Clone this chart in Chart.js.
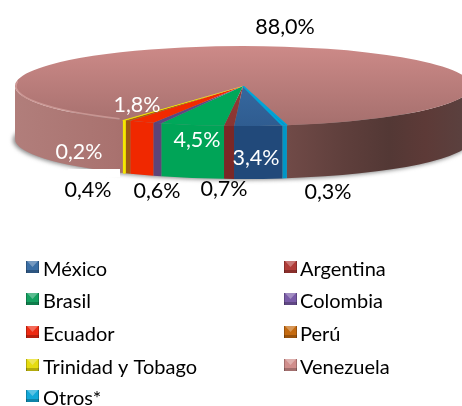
<!DOCTYPE html>
<html>
<head>
<meta charset="utf-8">
<style>
  html, body { margin: 0; padding: 0; background: #fff; overflow: hidden; }
  canvas { display: block; }
</style>
<script src="https://cdn.jsdelivr.net/npm/chart.js@4"></script>
</head>
<body>
<canvas id="pie-chart" width="462" height="406"></canvas>
<script>
// Data
const countries = ['México', 'Argentina', 'Brasil', 'Colombia', 'Ecuador', 'Perú', 'Trinidad y Tobago', 'Venezuela', 'Otros*'];
const shares = [3.4, 0.7, 4.5, 0.6, 1.8, 0.4, 0.2, 88.0, 0.3];

// Colours per slice: top face (upper, lower), side wall, legend swatch
const topLight = ['#3d74ad', '#96403d', '#00a85a', '#68508c', '#f22a00', '#b8690f', '#f7ea00', '#cd8a88', '#00a4d8'];
const topDark = ['#2f5c90', '#8a3532', '#00a85a', '#5c4580', '#f22a00', '#a85e0c', '#f0e000', '#a56f6d', '#0096c8'];
const wallColors = ['#21497a', '#7b2826', '#00a457', '#5d4478', '#f02800', '#9c5a12', '#f5e800', null, '#0096c6'];
const swatchColors = ['#3a6ea5', '#b03c38', '#14a060', '#7a5ca8', '#ee2a12', '#c46a10', '#e6dc10', '#d08e8c', '#12a8d8'];
// thin slices get an outline so they stay visible up to the apex
const outlineWidths = [0, 0, 0, 0, 0, 0, 2, 0, 2];

// Pie geometry on the page
const pie = { cx: 243, cy: 86, rx: 228, ry: 40, depth: 53 };
const startAngle = 170;

// Where the value labels sit: x centre, baseline, colour
const labelSpots = [
    [256, 165, '#fff'], [224, 196, '#000'], [197, 147, '#fff'], [157, 198, '#000'], [137, 112, '#fff'],
    [88, 197, '#000'], [79, 159, '#fff'], [285, 34, '#000'], [328, 199, '#000']
];

// Legend rows: swatch x, text x, baseline
const legendSpots = [
    [26, 43, 276], [284, 300, 276], [26, 43, 308], [284, 300, 308], [26, 43, 341],
    [284, 300, 341], [26, 43, 374], [284, 300, 374], [26, 43, 405]
];

const labelFont = '21.5px Lato, Carlito, sans-serif';
const legendFont = '20px Lato, Carlito, sans-serif';

function venezuelaWall(ctx) {
    const g = ctx.createLinearGradient(pie.cx - pie.rx, 0, pie.cx + pie.rx, 0);
    g.addColorStop(0, '#b17e7b');
    g.addColorStop(0.22, '#a9726f');
    g.addColorStop(0.3, '#a06a67');
    g.addColorStop(0.6, '#704a47');
    g.addColorStop(0.72, '#5f3f3c');
    g.addColorStop(0.82, '#533835');
    g.addColorStop(0.9, '#5d3a37');
    g.addColorStop(1, '#5a4240');
    return g;
}

function drawWalls(ctx, arcs) {
    const { cx, cy, rx, ry, depth } = pie;
    const full = Math.PI * 2;
    arcs.forEach((arc, i) => {
        [0, -full].forEach(shift => {
            const a1 = Math.max(arc.startAngle + shift, 0);
            const a2 = Math.min(arc.endAngle + shift, Math.PI);
            if (a2 <= a1) return;
            ctx.beginPath();
            ctx.ellipse(cx, cy, rx, ry, 0, a1, a2);
            ctx.ellipse(cx, cy + depth, rx, ry, 0, a2, a1, true);
            ctx.closePath();
            ctx.fillStyle = wallColors[i] || venezuelaWall(ctx);
            ctx.fill();
            // the yellow sliver reads a bit wider in the original
            if (countries[i].startsWith('Trinidad')) {
                ctx.strokeStyle = wallColors[i];
                ctx.lineWidth = 1;
                ctx.stroke();
            }
        });
    });
}

const pie3d = {
    id: 'pie3d',
    beforeDatasetsDraw(chart) {
        const ctx = chart.ctx;
        const arcs = chart.getDatasetMeta(0).data;
        const { cx, cy, rx, ry, depth } = pie;

        // soft shadow under the disc
        ctx.save();
        ctx.filter = 'blur(2px)';
        ctx.fillStyle = '#8a8a8a';
        ctx.beginPath();
        ctx.ellipse(cx - 1, cy + depth + 1, rx + 1, ry, 0, 0, Math.PI * 2);
        ctx.fill();
        ctx.restore();

        drawWalls(ctx, arcs);

        // squash the library's round pie into the top face
        const arc = arcs[0];
        ctx.save();
        ctx.translate(cx, cy);
        ctx.scale(rx / arc.outerRadius, ry / arc.outerRadius);
        ctx.translate(-arc.x, -arc.y);
    },
    afterDatasetsDraw(chart) {
        const ctx = chart.ctx;
        ctx.restore();
        const { cx, cy, rx, ry } = pie;
        const ven = chart.getDatasetMeta(0).data[7];

        // light rim on the front left of the top face
        ctx.save();
        ctx.strokeStyle = 'rgba(236, 190, 186, 0.45)';
        ctx.lineWidth = 1.5;
        ctx.filter = 'blur(0.5px)';
        ctx.beginPath();
        ctx.ellipse(cx, cy, rx - 1, ry - 1, 0, ven.startAngle + 0.02, Math.PI + 0.12);
        ctx.stroke();
        ctx.restore();

        // white box behind the 0,4% label cuts the disc bottom
        ctx.fillStyle = '#fff';
        ctx.fillRect(68, 169, 52, 8);

        // value labels
        ctx.font = labelFont;
        ctx.textAlign = 'center';
        ctx.textBaseline = 'alphabetic';
        shares.forEach((v, i) => {
            const [x, y, color] = labelSpots[i];
            ctx.fillStyle = color;
            ctx.fillText(v.toFixed(1).replace('.', ',') + '%', x, y);
        });

        // legend
        ctx.textAlign = 'left';
        ctx.font = legendFont;
        countries.forEach((name, i) => {
            const [sx, tx, y] = legendSpots[i];
            drawSwatch(ctx, sx, y - 15, swatchColors[i]);
            ctx.fillStyle = '#000';
            ctx.fillText(name, tx, y);
        });
    }
};

function drawSwatch(ctx, x, y, color) {
    const w = 13, h = 12;
    ctx.fillStyle = color;
    ctx.fillRect(x, y, w, h);
    // dark lower half and light top wedge
    ctx.fillStyle = 'rgba(0, 0, 0, 0.22)';
    ctx.fillRect(x, y + h - 3, w, 3);
    ctx.fillRect(x, y, 1, h);
    ctx.fillRect(x + w - 1, y, 1, h);
    ctx.fillStyle = 'rgba(255, 255, 255, 0.3)';
    ctx.beginPath();
    ctx.moveTo(x + 1, y);
    ctx.lineTo(x + w - 1, y);
    ctx.lineTo(x + w / 2, y + h / 2);
    ctx.closePath();
    ctx.fill();
}

// Create Pie Chart
const pieCtx = document.getElementById('pie-chart').getContext('2d');
new Chart(pieCtx, {
    type: 'pie',
    data: {
        labels: countries,
        datasets: [{
            data: shares,
            clip: false,
            borderWidth: outlineWidths,
            borderColor: topLight,
            backgroundColor(c) {
                const area = c.chart.chartArea;
                if (!area) return topLight[c.dataIndex];
                const g = c.chart.ctx.createLinearGradient(0, area.top, 0, area.bottom);
                g.addColorStop(0, topLight[c.dataIndex]);
                g.addColorStop(1, topDark[c.dataIndex]);
                return g;
            }
        }]
    },
    options: {
        responsive: false,
        animation: false,
        rotation: startAngle,
        plugins: {
            legend: { display: false },
            tooltip: { enabled: false }
        }
    },
    plugins: [pie3d]
});
</script>
</body>
</html>
